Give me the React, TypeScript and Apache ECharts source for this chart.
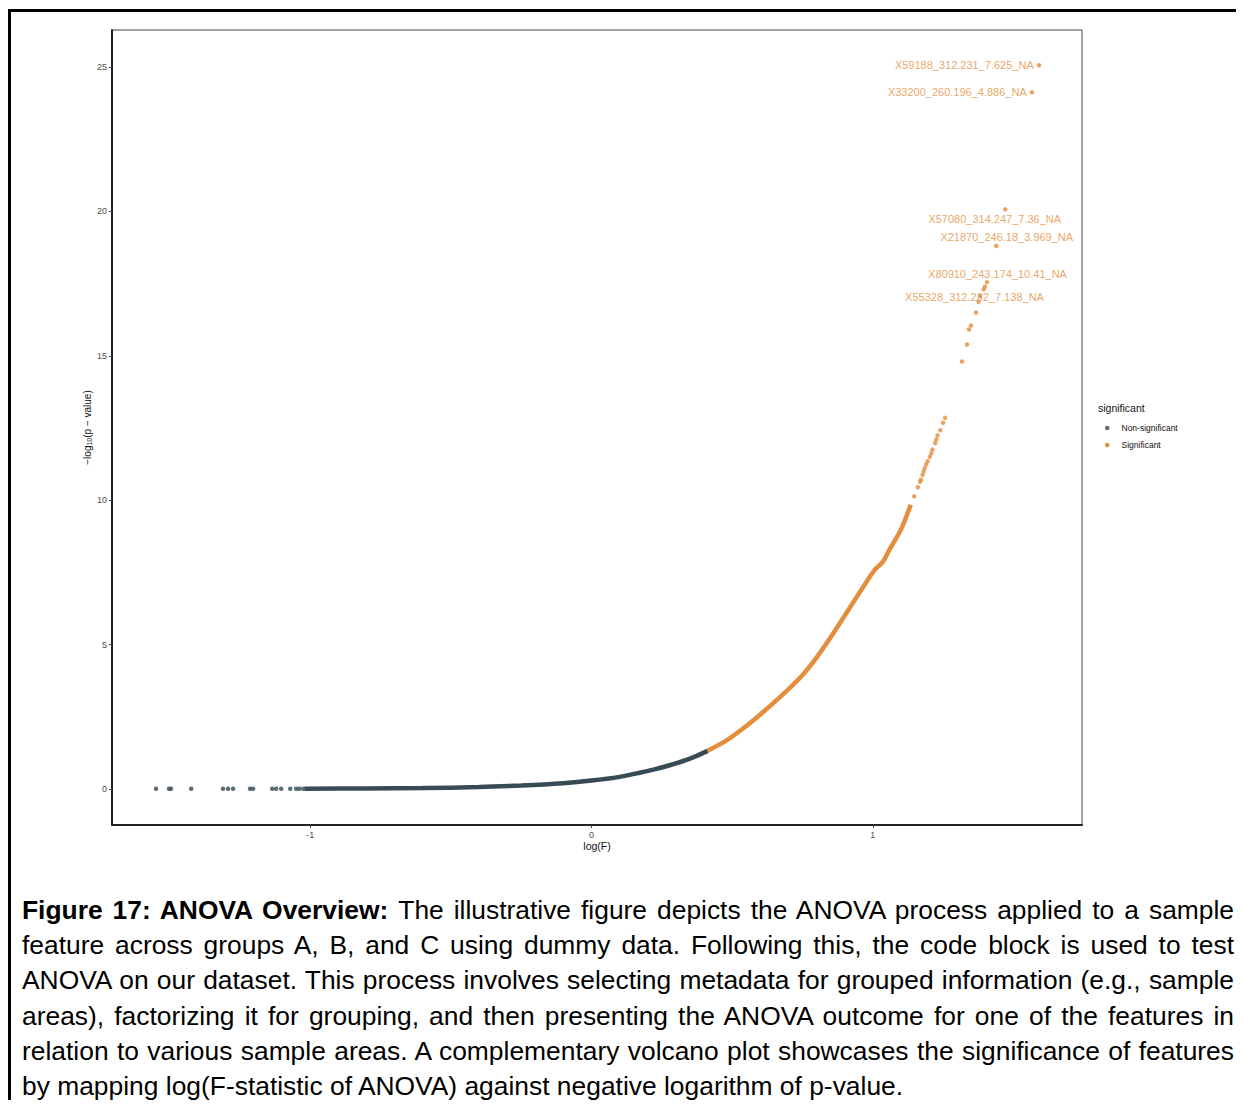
import React, { useEffect, useRef } from "react";
import * as echarts from "echarts";

// ---- data ----
const xTicks = [-1, 0, 1];
const yTicks = [0, 5, 10, 15, 20, 25];

// sparse non-significant points at the far left
const nonSigPoints: [number, number][] = [
  [-1.548, 0.01], [-1.502, 0.01], [-1.495, 0.01], [-1.423, 0.01],
  [-1.31, 0.01], [-1.292, 0.01], [-1.274, 0.01], [-1.214, 0.01],
  [-1.203, 0.01], [-1.135, 0.01], [-1.121, 0.01], [-1.103, 0.01],
  [-1.071, 0.01], [-1.05, 0.01], [-1.039, 0.01], [-1.025, 0.01],
];

// dense non-significant run of points (drawn as a band)
const nonSigCurve: [number, number][] = [
  [-1.02, 0.01], [-0.8, 0.02], [-0.6, 0.03], [-0.4, 0.07], [-0.25, 0.12],
  [-0.1, 0.2], [0.0, 0.29], [0.1, 0.42], [0.164, 0.55], [0.22, 0.67],
  [0.281, 0.83], [0.35, 1.05], [0.413, 1.32],
];

// dense significant run of points (drawn as a band)
const sigCurve: [number, number][] = [
  [0.413, 1.32], [0.48, 1.68], [0.541, 2.11], [0.6, 2.58], [0.67, 3.18],
  [0.744, 3.88], [0.8, 4.55], [0.861, 5.41], [0.92, 6.3], [0.982, 7.24],
  [1.01, 7.62], [1.036, 7.87], [1.06, 8.3], [1.1, 8.98], [1.135, 9.84],
];

// sparse significant points
const sigPoints: [number, number][] = [
  [1.147, 10.13], [1.16, 10.45], [1.168, 10.64], [1.171, 10.71], [1.177, 10.88],
  [1.181, 11.0], [1.185, 11.12], [1.19, 11.24], [1.195, 11.35], [1.203, 11.5],
  [1.208, 11.62], [1.212, 11.75], [1.222, 11.98], [1.226, 12.1], [1.23, 12.24],
  [1.24, 12.42], [1.25, 12.68], [1.257, 12.85], [1.317, 14.8], [1.335, 15.39],
  [1.342, 15.91], [1.349, 16.05], [1.367, 16.5], [1.376, 16.87], [1.381, 17.06],
  [1.394, 17.3],
];

// labelled top features
const labelNames = [
  "X55328_312.232_7.138_NA",
  "X80910_243.174_10.41_NA",
  "X21870_246.18_3.969_NA",
  "X57080_314.247_7.36_NA",
  "X33200_260.196_4.886_NA",
  "X59188_312.231_7.625_NA",
];
const labelX = [1.399, 1.406, 1.439, 1.471, 1.566, 1.591];
const labelY = [17.39, 17.55, 18.8, 20.07, 24.12, 25.06];

// label placement (layout, not data)
const labelPlacement: any[] = [
  { position: "inside", offset: [-10.5, 10] },
  { position: "inside", offset: [10.5, -8] },
  { position: "inside", offset: [10.5, -9] },
  { position: "inside", offset: [-10.5, 10] },
  { position: "left", distance: 3 },
  { position: "left", distance: 3 },
];

const seriesNames = ["Non-significant", "Significant"];
const legendTitle = "significant";
const xTitle = "log(F)";

const captionBold = "Figure 17: ANOVA Overview: ";
const captionText =
  "The illustrative figure depicts the ANOVA process applied to a sample feature across groups A, B, and C using dummy data. Following this, the code block is used to test ANOVA on our dataset. This process involves selecting metadata for grouped information (e.g., sample areas), factorizing it for grouping, and then presenting the ANOVA outcome for one of the features in relation to various sample areas. A complementary volcano plot showcases the significance of features by mapping log(F-statistic of ANOVA) against negative logarithm of p-value.";

const GREY = "#364B55";
const ORANGE = "#E48D3C";
const FONT = "'Liberation Sans', Arial, Helvetica, sans-serif";

export default function App() {
  const ref = useRef<HTMLDivElement>(null);

  useEffect(() => {
    document.body.style.overflow = "hidden";
    if (!ref.current) return;
    const chart = echarts.init(ref.current, undefined, { renderer: "svg" });

    const labelled = labelNames.map((n, i) => ({
      name: n,
      value: [labelX[i], labelY[i]],
      label: {
        show: true,
        formatter: n,
        color: ORANGE,
        fontSize: 11,
        fontFamily: FONT,
        align: labelPlacement[i].position === "inside" ? "center" : "right",
        verticalAlign: "middle",
        ...labelPlacement[i],
      },
    }));

    chart.setOption({
      animation: false,
      textStyle: { fontFamily: FONT },
      grid: {
        left: 101,
        top: 18,
        width: 970,
        height: 795,
        show: true,
        borderColor: "#444",
        borderWidth: 1,
        containLabel: false,
      },
      legend: {
        orient: "vertical",
        left: 1089,
        top: 406,
        itemWidth: 4.5,
        itemHeight: 4.5,
        itemGap: 7,
        data: seriesNames.map((n) => ({ name: n, icon: "circle" })),
        textStyle: {
          fontSize: 8.5,
          color: "#111",
          lineHeight: 10,
          padding: [0, 0, 0, 7],
          fontFamily: FONT,
        },
      },
      graphic: [
        {
          type: "text",
          left: 1087,
          top: 390,
          style: {
            text: legendTitle,
            fontSize: 10.5,
            fill: "#111",
            fontFamily: FONT,
          },
        },
      ],
      xAxis: {
        type: "value",
        min: -1.7046,
        max: 1.7438,
        name: xTitle,
        nameLocation: "middle",
        nameGap: 15,
        nameMoveOverlap: false,
        nameTextStyle: { fontSize: 10.5, color: "#111", fontFamily: FONT },
        axisLine: { onZero: false, lineStyle: { color: "#222", width: 2 } },
        axisTick: {
          show: true,
          length: 3,
          customValues: xTicks,
          lineStyle: { color: "#444", width: 1 },
        },
        axisLabel: {
          customValues: xTicks,
          fontSize: 9,
          color: "#4D4D4D",
          margin: 5,
          fontFamily: FONT,
        },
        splitLine: { show: false },
      },
      yAxis: {
        type: "value",
        min: -1.247,
        max: 26.28,
        name: "{a|−log}{b|10}{a|(p − value)}",
        nameLocation: "middle",
        nameGap: 19,
        nameMoveOverlap: false,
        nameRotate: 90,
        nameTextStyle: {
          rich: {
            a: { fontSize: 10, color: "#111", fontFamily: FONT, lineHeight: 12 },
            b: {
              fontSize: 7,
              color: "#111",
              fontFamily: FONT,
              lineHeight: 12,
              verticalAlign: "bottom",
            },
          },
        },
        axisLine: { onZero: false, lineStyle: { color: "#222", width: 2 } },
        axisTick: {
          show: true,
          length: 3,
          customValues: yTicks,
          lineStyle: { color: "#444", width: 1 },
        },
        axisLabel: {
          customValues: yTicks,
          fontSize: 9,
          color: "#4D4D4D",
          margin: 5,
          fontFamily: FONT,
        },
        splitLine: { show: false },
      },
      series: [
        {
          name: seriesNames[0],
          type: "scatter",
          symbol: "circle",
          symbolSize: 4.5,
          itemStyle: { color: GREY },
          data: nonSigPoints,
        },
        {
          name: seriesNames[0],
          type: "line",
          showSymbol: false,
          smooth: 0.3,
          lineStyle: { color: GREY, width: 4.5 },
          itemStyle: { color: GREY },
          data: nonSigCurve,
        },
        {
          name: seriesNames[1],
          type: "line",
          showSymbol: false,
          smooth: 0.3,
          lineStyle: { color: ORANGE, width: 4.5 },
          itemStyle: { color: ORANGE },
          data: sigCurve,
        },
        {
          name: seriesNames[1],
          type: "scatter",
          symbol: "circle",
          symbolSize: 4.5,
          itemStyle: { color: ORANGE },
          data: [...sigPoints, ...labelled],
        },
      ],
    });

    return () => chart.dispose();
  }, []);

  return (
    <div
      style={{
        position: "relative",
        marginTop: 1,
        borderLeft: "3px solid #000",
        borderTop: "3px solid #000",
        width: 1225,
        height: 1088,
        boxSizing: "content-box",
      }}
    >
      <div ref={ref} style={{ width: 1225, height: 880 }} />
      <div
        style={{
          position: "absolute",
          left: 11,
          top: 881,
          width: 1212,
          textAlign: "justify",
          fontFamily: FONT,
          fontSize: 26.4,
          lineHeight: "35.2px",
          color: "#000",
        }}
      >
        <b>{captionBold}</b>
        {captionText}
      </div>
    </div>
  );
}
